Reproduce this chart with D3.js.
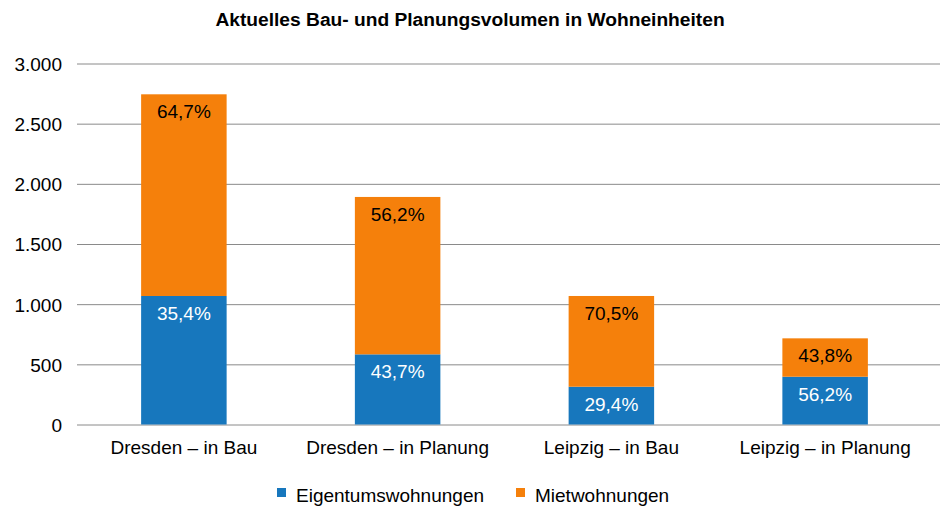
<!DOCTYPE html>
<html><head><meta charset="utf-8">
<script src="https://cdn.jsdelivr.net/npm/d3@7"></script>
<style>body{margin:0;background:#fff}svg{display:block;font-family:"Liberation Sans",Arial,Helvetica,sans-serif}</style>
</head><body><svg id="c" width="945" height="518"></svg>
<script>
const categories = ["Dresden – in Bau","Dresden – in Planung","Leipzig – in Bau","Leipzig – in Planung"];
const eigentum = [1068, 583, 314, 397];
const miete = [1676, 1308, 754, 319];
const eigentumLabels = ["35,4%","43,7%","29,4%","56,2%"];
const mieteLabels = ["64,7%","56,2%","70,5%","43,8%"];
const yTicks = [0,500,1000,1500,2000,2500,3000];
const seriesNames = ["Eigentumswohnungen","Mietwohnungen"];
const colors = ["#1777bd","#f5800b"];

const svg = d3.select("#c");
const x = d3.scaleBand().domain(categories).range([77,932]).paddingInner(0.6).paddingOuter(0.3);
const y = d3.scaleLinear().domain([0,3000]).range([424.5,63.5]);
const fmt = v => d3.format(",")(v).replace(/,/g,".");

svg.append("text").attr("x",470).attr("y",26).attr("text-anchor","middle")
  .attr("font-weight","bold").attr("font-size",19.2).text("Aktuelles Bau- und Planungsvolumen in Wohneinheiten");

const yAxis = svg.append("g").attr("transform","translate(77,0)")
  .call(d3.axisLeft(y).tickValues(yTicks).tickFormat(fmt).tickSize(-863).tickPadding(15));
yAxis.select(".domain").remove();
yAxis.selectAll(".tick line").attr("stroke","#8a8a8a").attr("stroke-width",1);
yAxis.selectAll(".tick text").attr("font-size",19).attr("fill","#000").attr("dy","0.36em");

const stackData = categories.map((c,i)=>({cat:c, e:eigentum[i], m:miete[i]}));
const stack = d3.stack().keys(["e","m"])(stackData);

stack.forEach((s,si)=>{
  svg.append("g").selectAll("rect").data(s).join("rect")
    .attr("x",d=>x(d.data.cat)).attr("width",x.bandwidth())
    .attr("y",d=>y(d[1])).attr("height",d=>y(d[0])-y(d[1]))
    .attr("fill",colors[si]);
});
const labs = [eigentumLabels, mieteLabels];
stack.forEach((s,si)=>{
  svg.append("g").selectAll("text").data(s).join("text")
    .attr("x",d=>x(d.data.cat)+x.bandwidth()/2).attr("y",d=>y(d[1])+24)
    .attr("text-anchor","middle").attr("font-size",19)
    .attr("fill",si===0?"#fff":"#000")
    .text((d,i)=>labs[si][i]);
});

const xAxis = svg.append("g").attr("transform","translate(0,424.5)")
  .call(d3.axisBottom(x).tickSize(0).tickPadding(0));
xAxis.select(".domain").remove();
xAxis.selectAll(".tick text").attr("font-size",19).attr("fill","#000").attr("dy",0).attr("y",29.5);

const legX = [277, 516];
seriesNames.forEach((n,i)=>{
  svg.append("rect").attr("x",legX[i]).attr("y",488).attr("width",9).attr("height",9).attr("fill",colors[i]);
  svg.append("text").attr("x",legX[i]+19).attr("y",501.5).attr("font-size",19).text(n);
});
</script></body></html>
